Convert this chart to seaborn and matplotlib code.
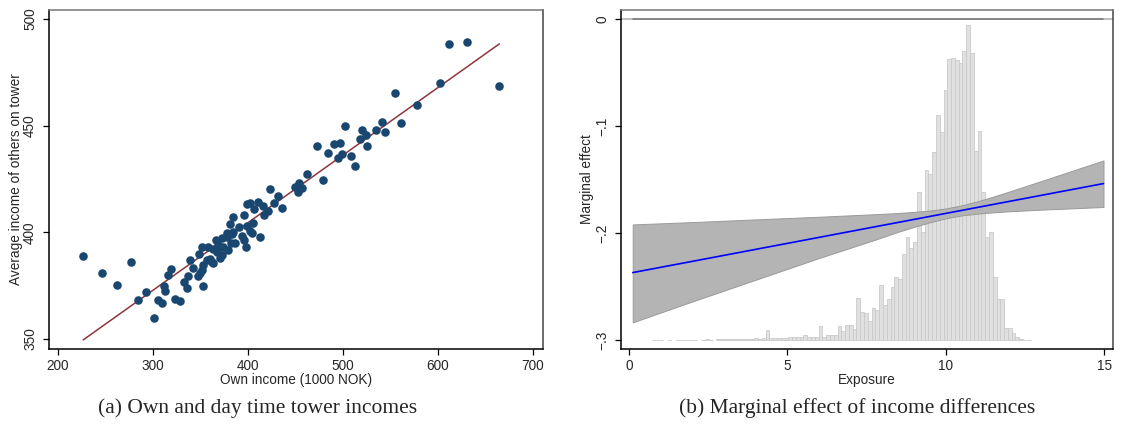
import numpy as np
import matplotlib
matplotlib.use("Agg")
import matplotlib.pyplot as plt
import seaborn as sns

# (a) own income vs average income of others on the tower (1000 NOK)
own_income = [611.9, 630.5, 664.5, 601.8, 554.7, 577.9, 561.4, 540.7, 535.1, 544.5,
              502.4, 519.6, 523.9, 517.9, 525.3, 496.5, 490.9, 472.6, 484.6, 498.9,
              494.4, 508.1, 512.6, 461.8, 479.3, 454.0, 449.5, 456.5, 452.6,
              431.6, 422.8, 427.4, 436.1, 410.8, 416.1, 406.3, 402.1, 421.4, 416.8, 405.0,
              399.3, 384.5, 396.1, 381.1, 390.8, 398.6, 402.1, 403.9, 413.0, 393.4,
              396.1, 397.9, 386.3, 382.8, 377.6, 372.3, 366.3, 368.1, 373.4, 378.6,
              351.3, 363.5, 372.3, 370.5, 360.0, 363.5, 348.7, 356.5, 352.9, 338.9,
              342.4, 351.9, 349.5, 347.7, 318.9, 316.1, 337.2, 332.6, 335.5, 352.9,
              311.6, 313.0, 305.6, 309.2, 323.2, 328.4, 301.1,
              226.7, 246.7, 261.8, 276.8, 283.9, 292.3,
              358.2, 367.0, 377.6, 384.5, 382.1, 361.8]
others_income = [488.1, 489.2, 468.5, 470.0, 465.2, 459.9, 451.1, 451.6, 448.0, 447.1,
                 449.6, 448.0, 445.7, 443.6, 440.5, 441.8, 441.5, 440.4, 437.4, 436.6,
                 434.6, 435.8, 431.3, 427.5, 424.3, 423.3, 421.2, 421.0, 418.8,
                 417.0, 420.2, 413.7, 411.5, 414.0, 412.1, 410.9, 413.7, 410.2, 408.1, 404.3,
                 413.3, 407.1, 407.9, 404.0, 402.7, 403.0, 400.4, 399.6, 397.8, 398.1,
                 396.2, 393.1, 395.2, 399.3, 397.6, 397.3, 396.2, 394.1, 393.3, 391.8,
                 393.1, 392.2, 389.5, 387.9, 387.5, 385.6, 390.0, 386.8, 384.8, 387.1,
                 383.2, 382.4, 380.9, 379.3, 382.7, 380.1, 379.6, 376.9, 373.9, 374.6,
                 375.0, 372.3, 368.4, 366.8, 368.7, 367.6, 359.8,
                 389.1, 380.9, 375.4, 385.9, 368.4, 372.1,
                 393.3, 390.6, 399.6, 400.1, 395.2, 386.3]
fit_x = [226.6, 664.5]
fit_y = [349.6, 488.3]

# (b) marginal effect by exposure, with confidence band
exposure = [0.12, 2, 4, 6, 7.8, 8.5, 9, 9.5, 10, 10.5, 11, 11.5, 12, 13, 14.98]
effect = [-0.2370, -0.2265, -0.2153, -0.2041, -0.1940, -0.1901, -0.1873, -0.1845,
          -0.1817, -0.1789, -0.1761, -0.1733, -0.1705, -0.1649, -0.1538]
effect_hi = [-0.1920, -0.1898, -0.1873, -0.1848, -0.1824, -0.1813, -0.1803, -0.1790,
             -0.1771, -0.1742, -0.1704, -0.1660, -0.1613, -0.1516, -0.1322]
effect_lo = [-0.2835, -0.2640, -0.2437, -0.2234, -0.2060, -0.1989, -0.1943, -0.1900,
             -0.1863, -0.1836, -0.1819, -0.1807, -0.1797, -0.1782, -0.1757]

# histogram of exposure (relative bar heights, 100 bins)
hist_start = 0.73
hist_width = 0.1195
hist_height = [0.5, 0.5, 0.4, 0, 0.5, 0, 0.4, 0.5, 0.5, 0.4,
               0.5, 0.4, 0, 0.5, 0.6, 0.5, 0, 0.6, 0.7, 0.7,
               0.8, 0.8, 0.9, 1.0, 1.2, 1.0, 1.3, 1.6, 1.5, 1.8,
               10, 1.8, 1.8, 2.0, 2.2, 2.5, 2.8, 3.2, 3.0, 3.5,
               4.8, 3.5, 3.3, 3.5, 14, 3.3, 5, 5.3, 5.5, 14,
               9, 14.7, 15, 10.7, 41.7, 27.7, 26.7, 19, 31.7, 30,
               55, 35, 41, 53.3, 62.7, 61, 86, 103, 91.7, 97.7,
               147.7, 107.7, 169.7, 165.7, 188, 225, 208, 250, 280.7, 282.3,
               280, 276.7, 289.3, 315, 287.3, 189.3, 209, 147.7, 102.7, 107.7,
               63.3, 41, 41, 11.7, 11.7, 6.7, 2.7, 0.7, 0.3, 0.3]

sns.set_style("white")
plt.rcParams['font.family'] = ['Liberation Sans', 'DejaVu Sans']
plt.rcParams['font.size'] = 9.8

fig = plt.figure(figsize=(11.25, 4.29), dpi=100)
W, H = 1125, 429


def frame(ax):
    for side in ['left', 'bottom']:
        ax.spines[side].set_color('black')
        ax.spines[side].set_linewidth(1.1)
    ax.spines['top'].set_color('#777777')
    ax.spines['right'].set_color('#444444')
    ax.spines['top'].set_linewidth(1.1)
    ax.spines['right'].set_linewidth(1.1)
    ax.tick_params(bottom=True, left=True, top=False, right=False,
                   direction='out', length=4.5, width=0.9, color='black',
                   labelsize=9.8, pad=3)
    ax.tick_params(axis='y', labelrotation=90, pad=4)
    for lab in ax.get_yticklabels():
        lab.set_va('center')


# ---- panel (a)
ax1 = fig.add_axes([49 / W, 1 - 349 / H, (543 - 49) / W, (349 - 10) / H])
sns.lineplot(x=fit_x, y=fit_y, ax=ax1, color='#90353b', lw=1.1)
sns.scatterplot(x=own_income, y=others_income, ax=ax1, color='#1a476f',
                s=38, linewidth=0, zorder=3)
ax1.set_xlim(190.5, 710.5)
ax1.set_ylim(345.3, 504.2)
ax1.set_xticks([200, 300, 400, 500, 600, 700])
ax1.set_yticks([350, 400, 450, 500])
ax1.set_xlabel('Own income (1000 NOK)', fontsize=9.8)
ax1.set_ylabel('Average income of others on tower', fontsize=9.8)
frame(ax1)
ax1.xaxis.set_label_coords(0.5, (349 - 373) / 339)
ax1.yaxis.set_label_coords((23 - 49) / 494, 0.5)

# ---- panel (b)
ax2 = fig.add_axes([621 / W, 1 - 349 / H, (1113 - 621) / W, (349 - 10) / H])
axh = ax2.twinx()
ax2.set_zorder(axh.get_zorder() + 1)
ax2.patch.set_visible(False)

lefts = [hist_start + i * hist_width for i in range(len(hist_height))]
keep = [i for i, h in enumerate(hist_height) if h > 0]
axh.bar([lefts[i] for i in keep], [hist_height[i] for i in keep],
        width=hist_width, align='edge', color='#e0e0e0',
        edgecolor='#cacaca', linewidth=0.6)
peak = max(hist_height)
axh.set_ylim(-9 / 315 * peak, 330 / 315 * peak)
axh.set_yticks([])
axh.tick_params(right=False)
for s in axh.spines.values():
    s.set_visible(False)

ax2.axhline(0, color='#b8b8b8', lw=1.3, zorder=1)
sns.lineplot(x=[exposure[0], exposure[-1]], y=[0, 0], ax=ax2,
             color='#808080', lw=1.3)
ax2.fill_between(exposure, effect_lo, effect_hi, color='#b4b4b4',
                 edgecolor='#9a9a9a', linewidth=0.7, zorder=2)
sns.lineplot(x=exposure, y=effect, ax=ax2, color='#0000ff', lw=1.2, zorder=3)

ax2.set_xlim(-0.25, 15.28)
ax2.set_ylim(-0.3084, 0.0084)
ax2.set_xticks([0, 5, 10, 15])
ax2.set_yticks([0, -0.1, -0.2, -0.3])
ax2.set_yticklabels(['0', '\u2212.1', '\u2212.2', '\u2212.3'])
ax2.set_xlabel('Exposure', fontsize=9.8)
ax2.set_ylabel('Marginal effect', fontsize=9.8)
frame(ax2)
ax2.xaxis.set_label_coords(0.5, (349 - 373) / 339)
ax2.yaxis.set_label_coords((594 - 621) / 492, 0.5)

# captions
fig.text(258 / W, 1 - 408 / H, '(a) Own and day time tower incomes',
         ha='center', va='center', fontsize=15.5,
         family=['Liberation Serif', 'DejaVu Serif'])
fig.text(857 / W, 1 - 408 / H, '(b) Marginal effect of income differences',
         ha='center', va='center', fontsize=15.5,
         family=['Liberation Serif', 'DejaVu Serif'])

fig.savefig('out.png', dpi=100)
